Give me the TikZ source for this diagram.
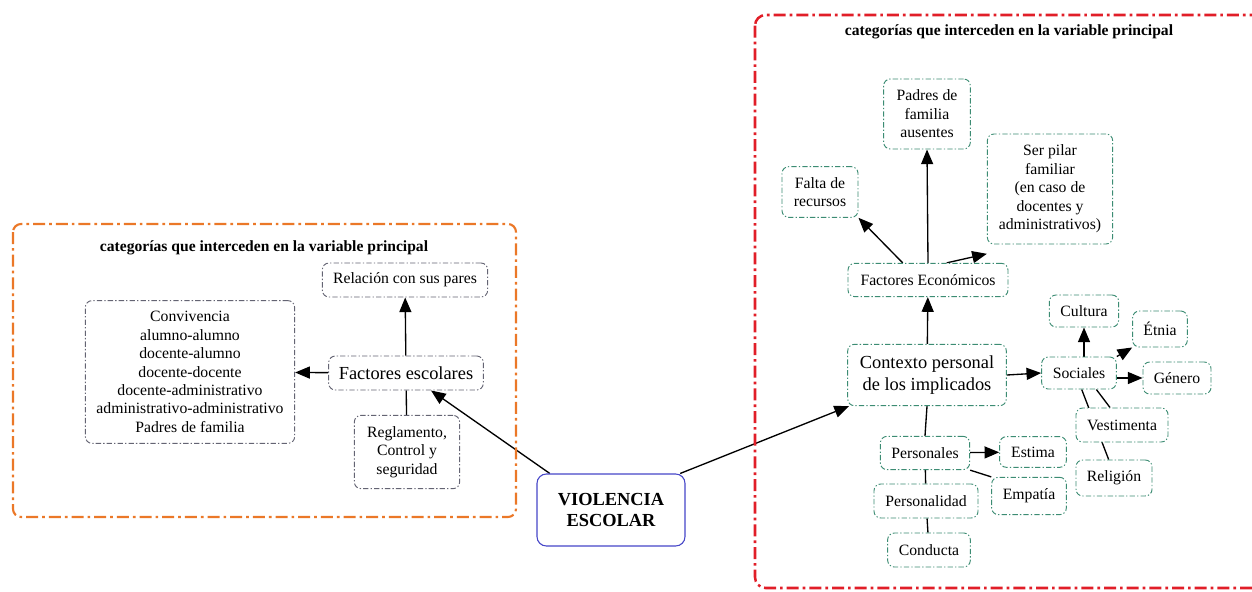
\documentclass[tikz,border=0pt]{standalone}
\usepackage{fontspec}
\setmainfont{Liberation Serif}
\usetikzlibrary{arrows.meta}
\usetikzlibrary{backgrounds}

\begin{document}
\begin{tikzpicture}[x=0.75pt,y=0.75pt,yscale=-1,xscale=1,
  caja/.style={draw={rgb, 255:red, 60; green, 140; blue, 115 }, fill=white, rounded corners=5pt, line width=0.7pt,
    dash pattern=on 4pt off 1.6pt on 1pt off 1.6pt, align=center, inner sep=1pt, font=\fontsize{11.8}{13.8}\selectfont},
  cajagris/.style={caja, draw={rgb, 255:red, 100; green, 100; blue, 115 }},
  grande/.style={font=\fontsize{13.8}{16.3}\selectfont},
  titulo/.style={font=\fontsize{11.7}{14}\selectfont\bfseries, inner sep=0.75pt},
  flecha/.style={-{Triangle[length=11pt,width=9pt]}, line width=1pt},
  linea/.style={line width=1pt}]
\useasboundingbox (0,0) rectangle (1252,592);

%Shape: Rectangle (marco izquierdo)
\draw [color={rgb, 255:red, 235; green, 120; blue, 40 }, line width=1.6pt, rounded corners=6pt,
  dash pattern=on 9pt off 3pt on 2pt off 3pt] (13,224) rectangle (516,517);
%Shape: Rectangle (marco derecho)
\draw [color={rgb, 255:red, 225; green, 30; blue, 40 }, line width=1.9pt, rounded corners=8pt,
  dash pattern=on 9pt off 3pt on 2pt off 3pt] (755,15) rectangle (1275,588);

% Text Node
\node [titulo] (tizq) at (264,248) {categorías que interceden en la variable principal};
% Text Node
\node [titulo] (tder) at (1009,32) {categorías que interceden en la variable principal};

% Text Node
\node [draw={rgb, 255:red, 70; green, 70; blue, 200 }, line width=0.8pt, rounded corners=7pt, fill=white, align=center,
  minimum width=111pt, minimum height=54pt, font=\fontsize{13.8}{16.3}\selectfont\bfseries] (violencia) at (611,510) {VIOLENCIA\\ESCOLAR};

% Text Node
\node [cajagris, minimum width=124pt, minimum height=25.5pt] (relacion) at (405,280) {Relación con sus pares};
% Text Node
\node [cajagris, minimum width=157pt, minimum height=107pt] (convivencia) at (190,372) {Convivencia\\alumno-alumno\\docente-alumno\\docente-docente\\docente-administrativo\\administrativo-administrativo\\Padres de familia};
% Text Node
\node [cajagris, grande, minimum width=116pt, minimum height=25.5pt] (factores) at (406,373) {Factores escolares};
% Text Node
\node [cajagris, minimum width=79pt, minimum height=55pt] (reglamento) at (407,452) {Reglamento,\\Control y\\seguridad};

% Text Node
\node [caja, minimum width=65pt, minimum height=52.5pt] (padres) at (927,114) {Padres de\\familia\\ausentes};
% Text Node
\node [caja, minimum width=57pt, minimum height=38pt] (falta) at (820,192) {Falta de\\recursos};
% Text Node
\node [caja, minimum width=94pt, minimum height=82.5pt] (pilar) at (1050,189) {Ser pilar\\familiar\\(en caso de\\docentes y\\administrativos)};
% Text Node
\node [caja, minimum width=120pt, minimum height=25pt] (economicos) at (928,280) {Factores Económicos};
% Text Node
\node [caja, grande, minimum width=119pt, minimum height=46pt] (contexto) at (927,375) {Contexto personal\\de los implicados};
% Text Node
\node [caja, minimum width=56pt, minimum height=24pt] (sociales) at (1079,373) {Sociales};
% Text Node
\node [caja, minimum width=52pt, minimum height=24pt] (cultura) at (1084,311) {Cultura};
% Text Node
\node [caja, minimum width=41pt, minimum height=27pt] (etnia) at (1160,329) {Étnia};
% Text Node
\node [caja, minimum width=51pt, minimum height=24pt] (genero) at (1177,378) {Género};
% Text Node
\node [caja, minimum width=69pt, minimum height=25.5pt] (vestimenta) at (1122,425) {Vestimenta};
% Text Node
\node [caja, minimum width=57pt, minimum height=27pt] (religion) at (1114,478) {Religión};
% Text Node
\node [caja, minimum width=67pt, minimum height=25pt] (personales) at (925,453) {Personales};
% Text Node
\node [caja, minimum width=50pt, minimum height=23pt] (estima) at (1033,452) {Estima};
% Text Node
\node [caja, minimum width=56pt, minimum height=28pt] (empatia) at (1029,496) {Empatía};
% Text Node
\node [caja, minimum width=78pt, minimum height=25.5pt] (personalidad) at (926,501) {Personalidad};
% Text Node
\node [caja, minimum width=62pt, minimum height=25.5pt] (conducta) at (929,550) {Conducta};

\begin{scope}[on background layer]
%Straight Lines
\draw [flecha] ([xshift=10pt]violencia.north west) -- (factores);
\draw [flecha] ([xshift=-4pt]violencia.north east) -- (contexto);
\draw [flecha] (factores) -- (relacion);
\draw [flecha] (factores) -- (convivencia);
\draw [linea] (factores) -- (reglamento);
%Straight Lines
\draw [flecha] (contexto) -- (economicos);
\draw [flecha] ([xshift=-19pt]economicos.north) -- (falta.south east);
\draw [flecha] (economicos.north) -- (padres.south);
\draw [flecha] ([xshift=14pt]economicos.north) -- ([yshift=7pt]pilar.south west);
\draw [flecha] (contexto.east) -- (sociales.west);
\draw [flecha] (sociales.north -| cultura) -- (cultura.south);
\draw [flecha] (sociales.north east) -- (etnia.south west);
\draw [flecha] (sociales.east |- genero.west) -- (genero.west);
\draw [linea] ([xshift=13pt]sociales.south) -- ([xshift=-9pt]vestimenta.north);
\draw [linea] ([xshift=2pt]sociales.south) -- ([xshift=-4pt]religion.north);
\draw [linea] (contexto.south) -- (personales.north);
\draw [flecha] (personales) -- (estima);
\draw [linea] (personales.south east) -- (empatia.north west);
\draw [linea] (personales) -- (personalidad);
\draw [linea] (personalidad) -- (conducta);
\end{scope}

\end{tikzpicture}
\end{document}
